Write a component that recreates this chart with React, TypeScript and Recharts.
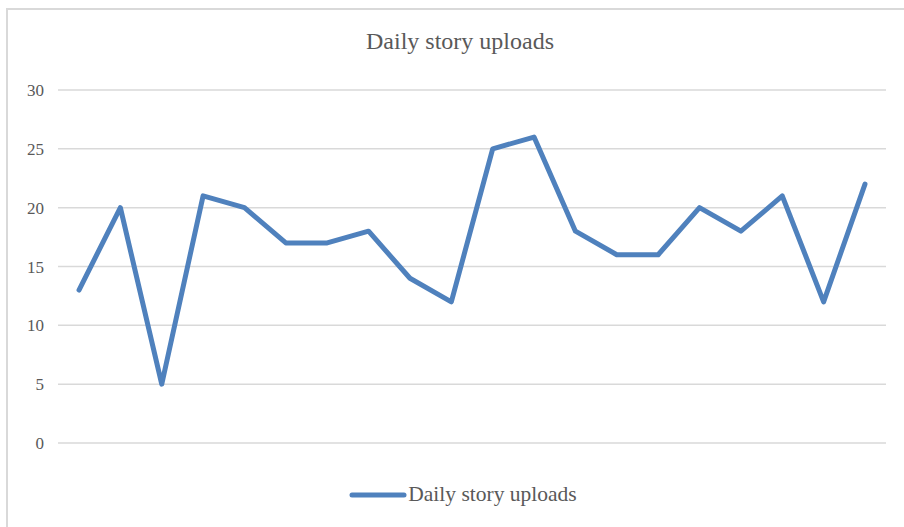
import { LineChart, Line, XAxis, YAxis, CartesianGrid, Legend } from "recharts";

const days = [
    "1", "2", "3", "4", "5", "6", "7", "8", "9", "10",
    "11", "12", "13", "14", "15", "16", "17", "18", "19", "20",
];
const uploads = [13, 20, 5, 21, 20, 17, 17, 18, 14, 12, 25, 26, 18, 16, 16, 20, 18, 21, 12, 22];
const yTicks = [0, 5, 10, 15, 20, 25, 30];

const seriesName = "Daily story uploads";
const lineColor = "#4f81bd";
const font = "'Liberation Serif', 'Times New Roman', serif";

const data = days.map((day, i) => ({ day, uploads: uploads[i] }));

function LegendContent({ payload }: any) {
    return (
        <div style={{ display: "flex", justifyContent: "center", alignItems: "center", fontFamily: font, paddingLeft: 40 }}>
            {(payload || []).map((entry: any) => (
                <div key={entry.value} style={{ display: "flex", alignItems: "center" }}>
                    <svg width={58} height={8}>
                        <line x1={3} y1={4} x2={55} y2={4} stroke={entry.color} strokeWidth={5} strokeLinecap="round" />
                    </svg>
                    <span style={{ fontSize: 21.5, color: "#595959", marginLeft: 1 }}>{entry.value}</span>
                </div>
            ))}
        </div>
    );
}

export default function App() {
    return (
        <div style={{ position: "absolute", left: 0, top: 0, width: 904, height: 527, background: "#fff", overflow: "hidden" }}>
            {/* chart frame, runs off the right and bottom edges */}
            <div style={{ position: "absolute", left: 6, top: 8, width: 940, height: 560, border: "2px solid #d9d9d9", boxSizing: "border-box" }} />
            <div
                style={{
                    position: "absolute", left: 0, top: 28, width: 920, textAlign: "center",
                    fontFamily: font, fontSize: 24, color: "#595959",
                }}
            >
                {seriesName}
            </div>
            <div style={{ position: "absolute", left: 0, top: 0 }}>
                <LineChart width={904} height={527} data={data} margin={{ top: 90, right: 18, bottom: 59, left: 0 }}>
                    <CartesianGrid vertical={false} stroke="#d9d9d9" strokeWidth={1.5} />
                    <XAxis dataKey="day" hide padding={{ left: 21, right: 21 }} />
                    <YAxis
                        width={58}
                        domain={[0, 30]}
                        ticks={yTicks}
                        axisLine={false}
                        tickLine={false}
                        tickSize={0}
                        tickMargin={14}
                        tick={{ fill: "#595959", fontSize: 17, fontFamily: font }}
                    />
                    <Legend verticalAlign="bottom" wrapperStyle={{ bottom: 20 }} content={LegendContent} />
                    <Line
                        type="linear"
                        dataKey="uploads"
                        name={seriesName}
                        stroke={lineColor}
                        strokeWidth={5}
                        strokeLinecap="round"
                        strokeLinejoin="round"
                        dot={false}
                        activeDot={false}
                        isAnimationActive={false}
                    />
                </LineChart>
            </div>
        </div>
    );
}
